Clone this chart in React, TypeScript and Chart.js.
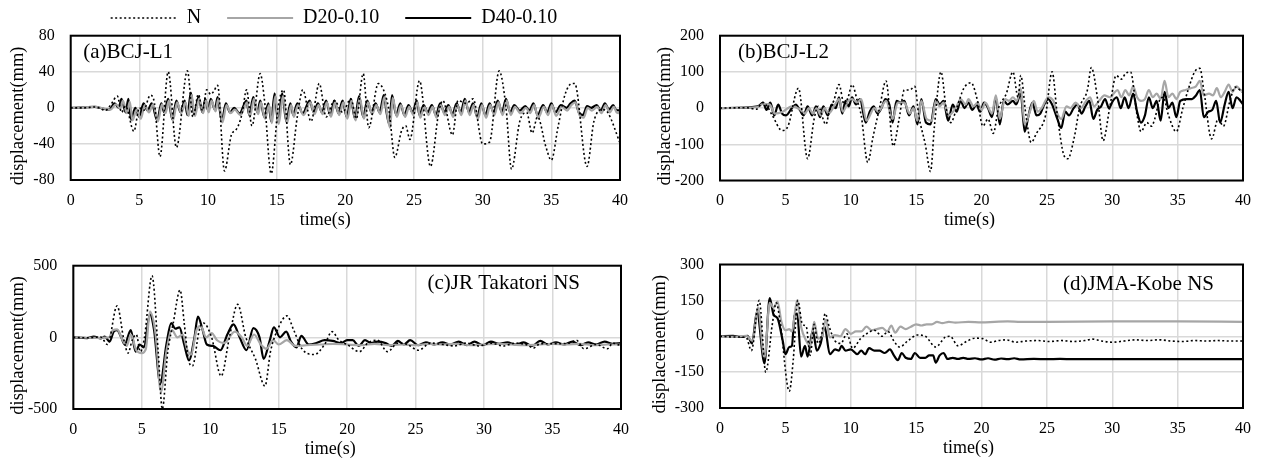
import React, { useEffect, useRef } from 'react';
import { Chart, registerables } from 'chart.js';
Chart.register(...registerables);

const FONT = "'Liberation Serif', 'Times New Roman', serif";

const LEGEND_LABELS = ['N', 'D20-0.10', 'D40-0.10'];
const X_TITLE = 'time(s)';
const Y_TITLE = 'displacement(mm)';
const PANEL_LABELS = ['(a)BCJ-L1', '(b)BCJ-L2', '(c)JR Takatori NS', '(d)JMA-Kobe NS'];
const Y_RANGES: [number, number, number][] = [[-80, 80, 40], [-200, 200, 100], [-500, 500, 500], [-300, 300, 150]];

type P = [number, number][];

// (a) BCJ-L1
const A_N: P = [[0,0],[1,0],[1.8,1],[2.2,-1],[2.5,-3],[2.9,3],[3.4,13],[3.7,-5],[4.0,2],[4.6,-26],[5.0,0],[5.3,-3],[5.8,14],[6.1,5],[6.5,-54],[7.1,40],[7.7,-44],[8.5,41],[8.9,-10],[9.3,15],[9.6,-3],[9.9,20],[10.2,15],[10.4,18],[10.7,25],[11.2,-70],[11.7,-30],[12.0,-25],[12.2,-20],[12.5,-5],[12.8,20],[13.2,-20],[13.8,38],[14.1,10],[14.6,-73],[15.1,0],[15.5,20],[16.0,-63],[16.5,-10],[16.9,20],[17.5,-15],[18.1,27],[18.6,-10],[19.2,8],[19.8,-5],[20.4,10],[20.8,-12],[21.3,38],[21.7,-22],[22.4,27],[22.9,15],[23.2,-5],[23.6,-55],[24.1,-25],[24.4,-20],[24.7,-35],[25.4,30],[26.2,-65],[26.8,-5],[27.1,8],[27.8,-30],[28.2,8],[28.8,5],[29.3,10],[30.0,-40],[30.5,-38],[31.2,41],[31.7,0],[32.1,-68],[32.7,-15],[33.2,-5],[33.6,-28],[34.0,-10],[34.6,-43],[35.0,-58],[35.5,-20],[36.0,15],[36.5,27],[36.7,27],[37.6,-65],[38.1,-15],[38.7,-2],[39.1,-5],[40,-39]];
const A_D20: P = [[0,0],[1.8,1],[2.5,-1],[2.9,-2],[3.3,4],[3.6,-1],[3.8,8],[4.1,-6],[4.3,7],[4.5,-14],[4.8,-2],[5.1,-12],[5.4,3],[5.7,-5],[6.0,4],[6.35,-15],[6.65,4],[6.9,-6],[7.15,8],[7.45,-14],[7.75,6],[8.05,-6],[8.35,6],[8.6,-9],[8.8,14],[9.05,-9],[9.35,10],[9.65,-6],[9.85,8],[10.05,-5],[10.25,8],[10.55,-4],[10.75,10],[11.05,-16],[11.35,3],[11.65,-6],[11.95,-2],[12.35,-8],[12.85,6],[13.05,-10],[13.35,10],[13.65,-7],[13.85,6],[14.15,-12],[14.45,3],[14.65,-17],[14.9,13],[15.15,-18],[15.45,13],[15.75,-17],[16.05,3],[16.25,-10],[16.55,3],[16.95,-8],[17.45,6],[17.75,-7],[18.05,3],[18.35,-7],[18.65,6],[18.95,-10],[19.25,6],[19.55,-8],[19.85,6],[20.15,-12],[20.45,8],[20.75,-14],[21.05,11],[21.35,-12],[21.65,6],[21.95,-7],[22.25,3],[22.55,-7],[22.85,12],[23.05,-7],[23.25,-22],[23.45,11],[23.75,-10],[24.05,3],[24.35,-10],[24.65,1],[24.95,-8],[25.25,6],[25.45,-11],[25.75,1],[26.05,-8],[26.35,1],[26.65,-11],[26.95,3],[27.25,-8],[27.55,1],[27.85,-10],[28.15,3],[28.45,-8],[28.75,8],[29.05,-8],[29.35,3],[29.65,-12],[29.95,3],[30.25,-11],[30.55,3],[30.85,-8],[31.15,6],[31.45,-8],[31.75,8],[32.05,-8],[32.35,1],[32.75,-6],[33.15,0],[33.45,-6],[33.75,3],[34.05,-11],[34.45,1],[34.75,-8],[35.05,3],[35.35,-9],[35.75,1],[36.15,-3],[36.45,3],[36.75,6],[37.05,-8],[37.35,-11],[37.65,0],[37.95,-3],[38.35,1],[38.65,-6],[38.95,3],[39.25,-5],[39.55,1],[39.75,-5],[40,-6]];
const A_D40: P = [[0,0],[1.75,1],[2.4,-1],[2.8,-2],[3.2,5],[3.5,0],[3.7,10],[4.0,-5],[4.2,10],[4.4,-13],[4.7,0],[5.0,-10],[5.3,5],[5.6,-3],[5.9,5],[6.3,-14],[6.6,5],[6.8,-5],[7.1,10],[7.4,-13],[7.7,8],[8.0,-5],[8.3,8],[8.5,-8],[8.75,17],[9.0,-8],[9.3,12],[9.6,-5],[9.8,10],[10.0,-3],[10.2,10],[10.5,-2],[10.7,12],[11.0,-15],[11.3,5],[11.6,-5],[11.9,0],[12.3,-6],[12.8,8],[13.0,-8],[13.3,12],[13.6,-5],[13.8,8],[14.1,-10],[14.4,5],[14.6,-15],[14.85,16],[15.1,-16],[15.4,16],[15.7,-15],[16.0,5],[16.2,-8],[16.5,5],[16.9,-6],[17.4,8],[17.7,-5],[18.0,5],[18.3,-5],[18.6,8],[18.9,-8],[19.2,8],[19.5,-6],[19.8,8],[20.1,-10],[20.4,10],[20.7,-12],[21.0,13],[21.3,-10],[21.6,8],[21.9,-5],[22.2,5],[22.5,-5],[22.8,14],[23.0,-5],[23.2,-18],[23.4,14],[23.7,-8],[24.0,5],[24.3,-8],[24.6,3],[24.9,-5],[25.2,8],[25.4,-8],[25.7,3],[26.0,-5],[26.3,3],[26.6,-8],[26.9,5],[27.2,-5],[27.5,3],[27.8,-7],[28.1,5],[28.4,-5],[28.7,10],[29.0,-5],[29.3,5],[29.6,-10],[29.9,5],[30.2,-8],[30.5,5],[30.8,-5],[31.1,8],[31.4,-5],[31.7,10],[32.0,-5],[32.3,3],[32.7,-3],[33.1,2],[33.4,-3],[33.7,5],[34.0,-8],[34.4,3],[34.7,-5],[35.0,5],[35.3,-5],[35.7,3],[36.1,0],[36.4,5],[36.7,8],[37.0,-5],[37.3,-8],[37.6,2],[37.9,0],[38.3,3],[38.6,-3],[38.9,5],[39.2,-2],[39.5,3],[39.7,-2],[40,-3]];

// (b) BCJ-L2
const B_N: P = [[0,0],[2,1],[2.8,-3],[3.25,15],[3.6,5],[4.0,-20],[4.75,-62],[5.2,-50],[6.0,55],[6.7,-140],[7.2,-30],[7.5,5],[8.1,-45],[8.4,0],[8.7,20],[9.1,65],[9.5,10],[9.8,30],[10.1,65],[10.5,20],[10.8,-20],[11.3,-150],[11.7,-80],[12.2,0],[12.7,75],[13.25,-105],[13.7,-30],[14.1,50],[14.5,50],[14.9,60],[15.2,-20],[15.7,-100],[16.1,-175],[16.4,-50],[16.9,100],[17.3,0],[17.65,-40],[18.1,0],[18.65,55],[19.2,70],[19.7,20],[20.1,-50],[20.5,-30],[20.9,-70],[21.3,0],[21.9,40],[22.4,100],[22.8,30],[23.0,90],[23.4,-20],[23.8,-95],[24.2,-70],[24.9,-20],[25.4,100],[25.8,-20],[26.3,-130],[26.6,-140],[27.1,-80],[27.5,0],[28.1,50],[28.4,112],[28.9,20],[29.3,-90],[29.8,0],[30.3,90],[30.7,80],[31.0,95],[31.4,100],[31.9,-20],[32.2,-65],[32.65,-40],[33.0,-50],[33.25,-30],[33.6,20],[33.9,30],[34.3,-20],[34.9,-65],[35.4,0],[35.8,50],[36.3,100],[36.7,110],[37.0,50],[37.6,-85],[38.1,-30],[38.5,-50],[39.0,20],[39.4,58],[40,42]];
const B_D20: P = [[0,0],[2.9,3],[3.3,12],[3.8,10],[4.2,-15],[4.8,-10],[5.5,5],[6.1,-3],[6.5,-15],[6.8,0],[7.1,-15],[7.4,0],[7.7,-20],[8.0,0],[8.3,-15],[8.8,10],[9.1,25],[9.4,-10],[9.8,20],[10.1,25],[10.5,15],[10.8,25],[11.2,-35],[11.8,0],[12.1,-10],[12.7,20],[13.2,-30],[13.6,15],[14.1,15],[14.5,-15],[14.8,0],[15.1,-35],[15.4,20],[15.8,-30],[16.2,-35],[16.5,20],[16.8,5],[17.1,15],[17.5,-20],[18.1,5],[18.4,25],[18.8,10],[19.0,25],[19.4,5],[19.7,15],[20.0,-5],[20.3,15],[20.8,-15],[21.1,35],[21.4,-30],[21.8,25],[22.1,20],[22.4,30],[22.7,20],[23.0,55],[23.3,-45],[23.7,-10],[24.0,20],[24.3,-10],[24.6,0],[25.1,30],[25.5,20],[25.8,-15],[26.1,-30],[26.5,5],[26.8,0],[27.2,15],[27.6,0],[28.0,20],[28.3,30],[28.6,5],[29.0,20],[29.4,35],[29.8,30],[30.1,40],[30.4,50],[30.7,30],[31.0,50],[31.3,35],[31.6,60],[31.9,30],[32.2,20],[32.5,25],[32.8,50],[33.1,30],[33.4,40],[33.7,25],[34.0,75],[34.3,30],[34.6,40],[34.9,25],[35.2,45],[35.6,50],[36.0,55],[36.4,60],[36.7,75],[37.0,35],[37.4,40],[37.7,35],[38.0,55],[38.3,30],[38.6,45],[38.9,65],[39.2,45],[39.5,60],[39.8,50],[40,48]];
const B_D40: P = [[0,0],[2.9,5],[3.3,15],[3.55,-5],[3.85,15],[4.15,-20],[4.45,10],[4.75,-15],[5.05,-20],[5.5,0],[5.8,10],[6.1,-5],[6.4,-20],[6.7,5],[7.05,-20],[7.35,5],[7.65,-25],[7.9,5],[8.25,-20],[8.55,10],[8.85,0],[9.1,30],[9.35,-15],[9.6,20],[9.85,5],[10.1,30],[10.4,10],[10.7,25],[11.15,-40],[11.45,-10],[11.75,5],[12.05,-15],[12.35,0],[12.65,25],[12.95,10],[13.2,-40],[13.5,20],[13.8,15],[14.1,20],[14.45,-20],[14.8,5],[15.1,-45],[15.4,25],[15.75,-40],[16.1,-45],[16.5,25],[16.8,10],[17.1,20],[17.45,-35],[17.8,10],[18.1,-10],[18.4,20],[18.7,0],[19.0,15],[19.3,-5],[19.6,10],[19.9,-10],[20.2,15],[20.5,0],[20.8,-25],[21.1,30],[21.4,-45],[21.7,20],[22.0,10],[22.4,20],[22.65,10],[23.0,40],[23.3,-65],[23.6,-20],[23.9,15],[24.2,-20],[24.5,-15],[24.8,10],[25.1,25],[25.4,10],[25.8,-30],[26.1,-55],[26.4,-10],[26.7,-20],[27.05,0],[27.35,10],[27.65,-15],[27.95,5],[28.25,20],[28.55,-30],[28.85,-5],[29.15,5],[29.45,25],[29.75,0],[30.05,20],[30.35,30],[30.65,0],[30.95,30],[31.25,0],[31.6,40],[31.9,-10],[32.2,-40],[32.5,-20],[32.8,30],[33.1,0],[33.4,20],[33.7,-35],[34.0,45],[34.3,0],[34.6,15],[34.9,-25],[35.2,20],[35.7,25],[36.1,25],[36.4,35],[36.7,50],[37.0,-25],[37.35,-10],[37.65,-5],[37.95,20],[38.25,-40],[38.6,10],[38.9,45],[39.2,0],[39.5,30],[39.8,20],[40,10]];

// (c) JR Takatori NS
const C_N: P = [[0,0],[1,-3],[2,2],[2.5,-50],[3.2,220],[3.7,-20],[4.0,-110],[4.3,-20],[4.6,20],[4.9,-100],[5.2,0],[5.75,430],[6.2,-100],[6.5,-500],[6.9,-100],[7.3,100],[7.8,330],[8.1,100],[8.4,-150],[8.7,-200],[9.2,50],[9.5,100],[10.1,0],[10.8,-270],[11.4,0],[12.0,230],[12.6,0],[13.3,-150],[14.0,-340],[14.4,-100],[14.9,50],[15.6,150],[16.1,50],[16.7,-80],[17.6,-120],[18.35,-50],[18.9,40],[19.4,-20],[20.0,-50],[20.9,-100],[21.5,-40],[22.2,-20],[22.95,-100],[23.7,-40],[24.4,-50],[25.2,-90],[26.1,-40],[27.0,-50],[27.8,-60],[28.7,-40],[29.6,-60],[30.5,-40],[31.4,-60],[32.3,-40],[33.2,-55],[33.6,-75],[34.1,-45],[35.0,-45],[36.2,-40],[36.75,-20],[37.3,-80],[38.2,-50],[39.0,-80],[39.4,-40],[40,-60]];
const C_D20: P = [[0,0],[1.5,-3],[2.6,0],[2.9,50],[3.2,55],[3.6,-20],[3.9,-60],[4.2,20],[4.6,-90],[5.0,-110],[5.3,-80],[5.6,180],[6.0,30],[6.4,-380],[6.8,-100],[7.2,50],[7.6,0],[8.0,20],[8.3,-80],[8.6,-120],[9.0,50],[9.3,80],[9.7,0],[10.1,30],[10.5,-20],[11.0,-40],[11.8,40],[12.3,0],[12.7,-60],[13.2,20],[13.7,-50],[14.1,-80],[14.6,-20],[15.0,-50],[15.6,-20],[16.2,-60],[17.0,-55],[18.0,-50],[19.0,-45],[20.0,-50],[21,-55],[22,-45],[23,-55],[24,-50],[25,-55],[26,-45],[27,-50],[28,-45],[29,-55],[30,-50],[31,-45],[32,-50],[33,-55],[34,-50],[35,-45],[36,-50],[37,-45],[38,-55],[39,-50],[40,-50]];
const C_D40: P = [[0,0],[1,-5],[1.5,5],[2,-8],[2.3,5],[2.65,-30],[2.95,40],[3.2,50],[3.5,0],[3.75,-50],[4.2,50],[4.55,-100],[4.85,-50],[5.15,-70],[5.6,160],[5.9,50],[6.35,-320],[6.8,-50],[7.15,100],[7.45,60],[7.75,70],[8.1,-50],[8.45,-160],[8.85,0],[9.1,145],[9.45,50],[9.75,-50],[10.2,-60],[10.75,-90],[11.25,20],[11.7,90],[12.15,0],[12.65,-90],[13.15,65],[13.6,0],[13.9,-150],[14.35,-20],[14.65,70],[15.1,0],[15.55,40],[15.9,-30],[16.3,-70],[16.65,10],[17.2,-50],[17.75,-40],[18.35,-20],[18.95,-25],[19.55,-40],[20.0,-20],[20.4,-20],[20.85,-60],[21.3,-20],[21.75,-40],[22.2,-30],[22.8,-40],[23.25,-60],[23.7,-25],[24.15,-50],[24.6,-20],[25.2,-55],[25.75,-35],[26.35,-50],[26.95,-35],[27.55,-50],[28.15,-30],[28.75,-55],[29.3,-30],[29.9,-55],[30.5,-30],[31.1,-45],[31.7,-35],[32.3,-50],[32.9,-35],[33.5,-60],[34.1,-25],[34.65,-50],[35.25,-35],[35.85,-50],[36.45,-30],[37.05,-55],[37.6,-35],[38.2,-50],[38.8,-30],[39.4,-45],[40,-40]];

// (d) JMA-Kobe NS
const D_N: P = [[0,0],[1,-3],[2,-5],[2.4,-60],[3.0,150],[3.5,-150],[4.0,50],[4.3,140],[4.6,60],[5.3,-230],[5.6,-100],[5.95,150],[6.3,50],[6.6,40],[6.9,-80],[7.2,50],[7.5,-30],[7.75,0],[8.05,95],[8.35,40],[8.8,-20],[9.25,-30],[9.7,10],[10.15,-50],[10.75,-10],[11.2,10],[11.8,25],[12.4,0],[12.85,20],[13.3,-20],[13.75,-45],[14.35,-20],[15.1,5],[15.7,0],[16.5,-45],[17.2,-5],[17.6,0],[18.2,-40],[18.9,-20],[19.5,-8],[20.1,-10],[20.7,-25],[21.3,-18],[21.9,-15],[22.6,-25],[23.4,-20],[24.3,-18],[25.2,-22],[26.1,-18],[27.0,-22],[27.9,-18],[28.5,-12],[29.2,-20],[30.0,-25],[30.9,-20],[31.8,-15],[32.7,-18],[33.6,-15],[34.5,-20],[35.4,-22],[36.3,-18],[37.2,-20],[38.1,-18],[39.0,-20],[40,-20]];
const D_D20: P = [[0,0],[1,-3],[2,2],[2.5,-20],[2.9,120],[3.4,-90],[3.8,140],[4.1,120],[4.4,145],[4.7,60],[5.0,25],[5.3,30],[5.5,20],[5.9,150],[6.2,40],[6.6,-20],[6.9,-40],[7.2,60],[7.5,-10],[7.8,0],[8.1,70],[8.4,-5],[8.8,5],[9.2,0],[9.6,30],[10.0,10],[10.4,20],[10.8,20],[11.2,40],[11.6,25],[12.0,30],[12.4,35],[12.8,20],[13.1,45],[13.4,15],[13.8,40],[14.2,30],[14.6,40],[15.0,50],[15.4,45],[15.8,50],[16.2,50],[16.6,60],[17,55],[17.5,60],[18,57],[19,60],[20,58],[21,60],[22,62],[23,60],[25,60],[30,62],[35,62],[40,60]];
const D_D40: P = [[0,0],[1,2],[1.6,-3],[2.1,2],[2.45,-30],[2.83,103],[3.4,-113],[3.8,160],[4.1,90],[4.4,75],[4.8,-20],[5.0,-75],[5.3,-45],[5.5,-40],[5.7,85],[5.9,95],[6.2,-85],[6.5,-40],[6.7,-85],[7.1,25],[7.4,-60],[7.7,-30],[8.0,40],[8.4,-75],[8.8,-55],[9.1,-60],[9.3,-40],[9.6,-60],[10.0,-55],[10.5,-75],[10.8,-60],[11.1,-75],[11.4,-50],[11.8,-60],[12.2,-60],[12.6,-70],[13.0,-55],[13.3,-80],[13.6,-100],[13.9,-70],[14.2,-90],[14.6,-95],[14.9,-70],[15.3,-90],[15.7,-90],[16.0,-80],[16.3,-80],[16.5,-110],[16.8,-80],[17.1,-70],[17.4,-95],[17.8,-90],[18.2,-95],[18.6,-90],[19,-95],[19.5,-92],[20,-97],[20.5,-92],[21,-98],[21.5,-93],[22,-96],[22.5,-92],[23,-97],[24,-95],[25,-96],[26,-95],[27,-96],[30,-96],[35,-96],[40,-96]];

const SERIES: P[][] = [[A_N, A_D20, A_D40], [B_N, B_D20, B_D40], [C_N, C_D20, C_D40], [D_N, D_D20, D_D40]];

const STYLES = [
  { color: '#000000', width: 1.6, dash: [2, 2.5] },
  { color: '#a6a6a6', width: 2.2, dash: [] as number[] },
  { color: '#000000', width: 2.2, dash: [] as number[] },
];

const XH = 50;
const PANELS = [
  { left: 0, top: 0, width: 640, height: 232, plot: { l: 70.7, r: 620, t: 35.7, b: 180 }, yTitleX: 18, xTitleDx: -20, labelAlign: 'left', labelDx: 12.5, labelDy: 22.6 },
  { left: 640, top: 0, width: 622, height: 232, plot: { l: 720, r: 1243, t: 35.7, b: 180.5 }, yTitleX: 25.5, xTitleDx: -12, labelAlign: 'left', labelDx: 18, labelDy: 22.6 },
  { left: 0, top: 232, width: 640, height: 232, plot: { l: 73.3, r: 624, t: 265.7, b: 409 }, yTitleX: 18, xTitleDx: -17, labelAlign: 'right', labelDx: -41, labelDy: 23.6 },
  { left: 640, top: 232, width: 622, height: 232, plot: { l: 720, r: 1248, t: 264.5, b: 408 }, yTitleX: 20, xTitleDx: -13, labelAlign: 'right', labelDx: -29, labelDy: 25.5 },
];

const decorPlugin = {
  id: 'decor',
  afterDraw(chart: any, _args: any, opts: any) {
    const { ctx, chartArea: ca } = chart;
    if (!ca) return;
    ctx.save();
    ctx.strokeStyle = '#000';
    ctx.lineWidth = 2;
    ctx.strokeRect(ca.left, ca.top, ca.right - ca.left, ca.bottom - ca.top);
    ctx.fillStyle = '#000';
    ctx.font = `21px ${FONT}`;
    ctx.textBaseline = 'alphabetic';
    if (opts.labelAlign === 'left') {
      ctx.textAlign = 'left';
      ctx.fillText(opts.label, ca.left + opts.labelDx, ca.top + opts.labelDy);
    } else {
      ctx.textAlign = 'right';
      ctx.fillText(opts.label, ca.right + opts.labelDx, ca.top + opts.labelDy);
    }
    ctx.font = `18px ${FONT}`;
    ctx.textAlign = 'center';
    ctx.textBaseline = 'middle';
    ctx.fillText(opts.xTitle, (ca.left + ca.right) / 2 + opts.xTitleDx, ca.bottom + 40);
    ctx.font = `18.5px ${FONT}`;
    ctx.translate(opts.yTitleX, (ca.top + ca.bottom) / 2 + 8);
    ctx.rotate(-Math.PI / 2);
    ctx.fillText(opts.yTitle, 0, 0);
    ctx.restore();
  },
};

function Panel({ idx }: { idx: number }) {
  const ref = useRef<HTMLCanvasElement>(null);
  const p = PANELS[idx];
  useEffect(() => {
    if (!ref.current) return;
    const [yMin, yMax, yStep] = Y_RANGES[idx];
    const datasets = SERIES[idx].map((pts, i) => ({
      label: LEGEND_LABELS[i],
      data: pts.map(([x, y]) => ({ x, y })),
      borderColor: STYLES[i].color,
      borderWidth: STYLES[i].width,
      borderDash: STYLES[i].dash,
      pointRadius: 0,
      fill: false,
      cubicInterpolationMode: 'monotone' as const,
    }));
    const chart = new Chart(ref.current, {
      type: 'line',
      data: { datasets },
      options: {
        animation: false,
        responsive: false,
        devicePixelRatio: 1,
        layout: {
          padding: {
            left: 0,
            top: p.plot.t - p.top,
            right: p.left + p.width - p.plot.r,
            bottom: p.top + p.height - p.plot.b - XH,
          },
        },
        plugins: {
          legend: { display: false },
          tooltip: { enabled: false },
          decor: {
            label: PANEL_LABELS[idx], labelAlign: p.labelAlign, labelDx: p.labelDx, labelDy: p.labelDy,
            xTitle: X_TITLE, xTitleDx: p.xTitleDx, yTitle: Y_TITLE, yTitleX: p.yTitleX,
          },
        } as any,
        scales: {
          x: {
            type: 'linear', min: 0, max: 40,
            ticks: { stepSize: 5, padding: 11, maxRotation: 0, autoSkip: false, color: '#000', font: { family: FONT, size: 16 } },
            grid: { color: '#d9d9d9', lineWidth: 1.5, drawTicks: false },
            border: { display: false },
            afterFit: (s: any) => { s.height = XH; },
          },
          y: {
            type: 'linear', min: yMin, max: yMax,
            ticks: { stepSize: yStep, padding: 16, color: '#000', font: { family: FONT, size: 16 } },
            grid: { color: '#d9d9d9', lineWidth: 1.5, drawTicks: false },
            border: { display: false },
            afterFit: (s: any) => { s.width = p.plot.l - p.left; },
          },
        },
      },
      plugins: [decorPlugin],
    });
    return () => chart.destroy();
  }, [idx]);
  return (
    <canvas ref={ref} width={p.width} height={p.height}
      style={{ position: 'absolute', left: p.left, top: p.top, width: p.width, height: p.height }} />
  );
}

function Legend() {
  const ref = useRef<HTMLCanvasElement>(null);
  useEffect(() => {
    if (!ref.current) return;
    const chart = new Chart(ref.current, {
      type: 'line',
      data: {
        datasets: LEGEND_LABELS.map((label, i) => ({
          label, data: [], borderColor: STYLES[i].color, borderWidth: STYLES[i].width, borderDash: STYLES[i].dash,
        })),
      },
      options: {
        animation: false,
        responsive: false,
        devicePixelRatio: 1,
        layout: { padding: 0 },
        scales: { x: { display: false }, y: { display: false } },
        plugins: {
          tooltip: { enabled: false },
          legend: {
            display: true,
            position: 'top',
            maxHeight: 200,
            labels: {
              usePointStyle: true,
              pointStyleWidth: 66,
              padding: 26,
              color: '#000',
              font: { family: FONT, size: 20 },
              generateLabels: (c: any) => c.data.datasets.map((ds: any, i: number) => ({
                text: ds.label,
                fillStyle: ds.borderColor,
                strokeStyle: ds.borderColor,
                lineWidth: ds.borderWidth,
                lineDash: ds.borderDash,
                pointStyle: 'line',
                hidden: false,
                fontColor: '#000',
                datasetIndex: i,
              })),
            },
          },
        },
      } as any,
    });
    return () => chart.destroy();
  }, []);
  return (
    <canvas ref={ref} width={668} height={200}
      style={{ position: 'absolute', left: 0, top: -18, width: 668, height: 200, pointerEvents: 'none' }} />
  );
}

export default function App() {
  return (
    <div style={{ position: 'absolute', left: 0, top: 0, width: 1262, height: 464, background: '#fff', overflow: 'hidden' }}>
      {PANELS.map((_, i) => <Panel key={i} idx={i} />)}
      <Legend />
    </div>
  );
}
